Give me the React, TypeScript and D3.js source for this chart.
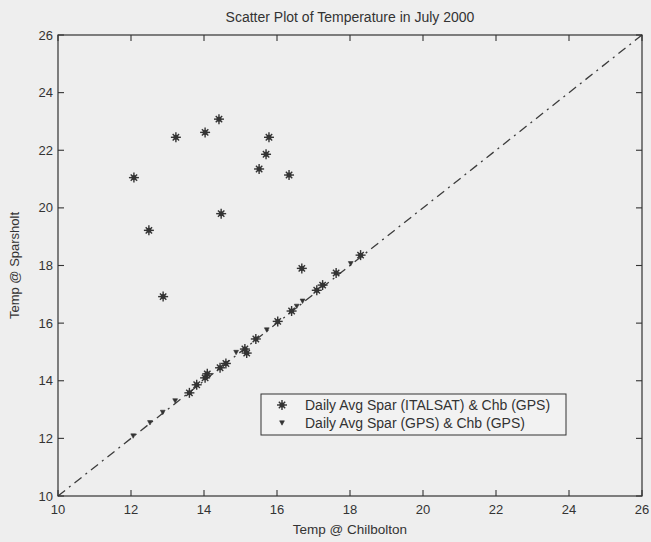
import React from "react";
import * as d3 from "d3";

// Daily average temperatures, July 2000 (degC)
const italsatChb = [12.08, 12.49, 12.88, 13.23, 14.03, 14.41, 14.47, 15.51, 15.70, 15.78, 16.33, 16.68,
  13.60, 13.80, 14.03, 14.09, 14.44, 14.60, 15.12, 15.17, 15.42, 16.02, 16.40, 17.09, 17.25, 17.62, 18.29];
const italsatSpar = [21.05, 19.22, 16.92, 22.45, 22.62, 23.08, 19.80, 21.35, 21.86, 22.45, 21.14, 17.90,
  13.58, 13.86, 14.10, 14.24, 14.45, 14.60, 15.10, 14.96, 15.45, 16.06, 16.42, 17.14, 17.32, 17.74, 18.36];

const gpsChb = [12.06, 12.52, 12.87, 13.21, 14.88, 15.72, 16.54, 16.70, 18.02];
const gpsSpar = [12.08, 12.54, 12.90, 13.30, 14.98, 15.76, 16.58, 16.76, 18.06];

const xTicks = [10, 12, 14, 16, 18, 20, 22, 24, 26];
const yTicks = [10, 12, 14, 16, 18, 20, 22, 24, 26];
const domain = [10, 26];

const legendLabels = ["Daily Avg Spar (ITALSAT) & Chb (GPS)", "Daily Avg Spar (GPS) & Chb (GPS)"];

const W = 651;
const H = 542;
const left = 58, right = 642, top = 35, bottom = 496;
const ink = "#333";
const font = "'Liberation Sans', Arial, Helvetica, sans-serif";

function Star({ cx, cy }: { cx: number; cy: number }) {
  const a = 5, b = 3.2;
  return (
    <g stroke={ink} strokeWidth={1.4} fill={ink}>
      <line x1={cx - a} y1={cy} x2={cx + a} y2={cy} />
      <line x1={cx} y1={cy - a} x2={cx} y2={cy + a} />
      <line x1={cx - b} y1={cy - b} x2={cx + b} y2={cy + b} />
      <line x1={cx - b} y1={cy + b} x2={cx + b} y2={cy - b} />
      <circle cx={cx} cy={cy} r={2.5} stroke="none" />
    </g>
  );
}

function Tri({ cx, cy }: { cx: number; cy: number }) {
  const w = 2.4, h = 2.2;
  return <path d={`M${cx - w},${cy - h}L${cx + w},${cy - h}L${cx},${cy + h}Z`} fill={ink} stroke={ink} strokeWidth={0.6} />;
}

export default function App() {
  const x = d3.scaleLinear().domain(domain).range([left, right]);
  const y = d3.scaleLinear().domain(domain).range([bottom, top]);
  const tl = 6;

  const diag = d3.line<number>().x((d) => x(d)).y((d) => y(d))(domain) || "";

  const lgX = 261, lgY = 394, lgW = 305, lgH = 41;
  const rows = [lgY + 11, lgY + 29];

  return (
    <svg width={W} height={H} style={{ position: "absolute", left: 0, top: 0, background: "#eeeeee" }} fontFamily={font}>
      <rect x={0} y={0} width={W} height={H} fill="#eeeeee" />
      <text x={(left + right) / 2} y={22} textAnchor="middle" fontSize={14} fill={ink}>
        Scatter Plot of Temperature in July 2000
      </text>

      {/* identity reference line */}
      <path d={diag} stroke="#3c3c3c" strokeWidth={1.3} fill="none" strokeDasharray="9,5,2,5" />

      {italsatChb.map((v, i) => (
        <Star key={"s" + i} cx={x(v)} cy={y(italsatSpar[i])} />
      ))}
      {gpsChb.map((v, i) => (
        <Tri key={"t" + i} cx={x(v)} cy={y(gpsSpar[i])} />
      ))}

      {/* box and inward ticks */}
      <rect x={left} y={top} width={right - left} height={bottom - top} fill="none" stroke={ink} strokeWidth={1.2} />
      {xTicks.map((t) => (
        <g key={"x" + t}>
          <line x1={x(t)} x2={x(t)} y1={bottom} y2={bottom - tl} stroke={ink} strokeWidth={1.1} />
          <line x1={x(t)} x2={x(t)} y1={top} y2={top + tl} stroke={ink} strokeWidth={1.1} />
          <text x={x(t)} y={514} textAnchor="middle" fontSize={13} fill={ink}>{t}</text>
        </g>
      ))}
      {yTicks.map((t) => (
        <g key={"y" + t}>
          <line x1={left} x2={left + tl} y1={y(t)} y2={y(t)} stroke={ink} strokeWidth={1.1} />
          <line x1={right} x2={right - tl} y1={y(t)} y2={y(t)} stroke={ink} strokeWidth={1.1} />
          <text x={53} y={y(t) + 4.5} textAnchor="end" fontSize={13} fill={ink}>{t}</text>
        </g>
      ))}

      <text x={(left + right) / 2} y={534} textAnchor="middle" fontSize={13.5} fill={ink}>Temp @ Chilbolton</text>
      <text transform={`translate(19,${(top + bottom) / 2}) rotate(-90)`} textAnchor="middle" fontSize={13} fill={ink}>
        Temp @ Sparsholt
      </text>

      {/* legend */}
      <rect x={lgX} y={lgY} width={lgW} height={lgH} fill="#f2f2f2" stroke={ink} strokeWidth={1} />
      <Star cx={lgX + 21} cy={rows[0]} />
      <Tri cx={lgX + 21} cy={rows[1]} />
      {legendLabels.map((s, i) => (
        <text key={s} x={lgX + 44} y={rows[i] + 5} fontSize={14} fill={ink}>{s}</text>
      ))}
    </svg>
  );
}
